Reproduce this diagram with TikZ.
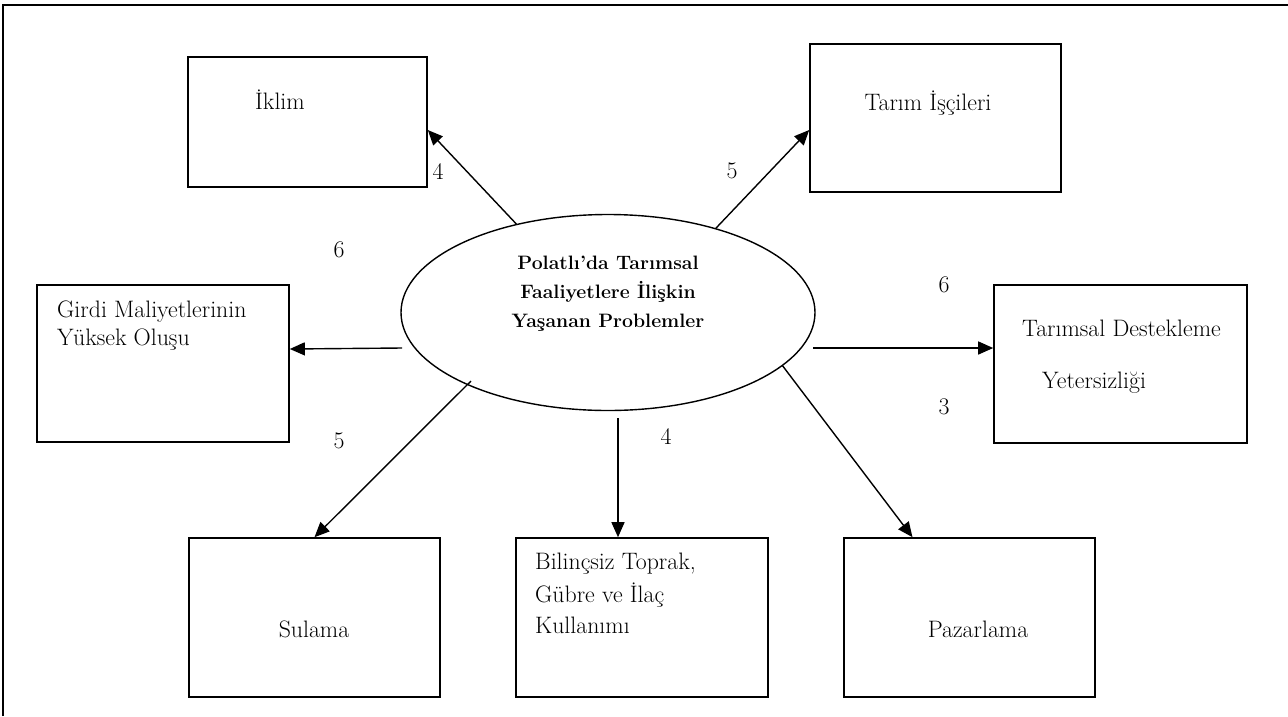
\documentclass[tikz,border=0pt]{standalone}
\usetikzlibrary{arrows.meta,calc,shapes.geometric}
\begin{document}
\begin{tikzpicture}[x=1pt,y=-1pt,
  box/.style={draw,line width=1.6pt,rectangle,inner sep=0pt},
  txt/.style={inner sep=0pt,font=\fontsize{23.8}{30}\selectfont},
  num/.style={inner sep=0pt,font=\fontsize{23.8}{30}\selectfont},
  arr/.style={line width=1.4pt,-{Triangle[length=15pt,width=13pt]}},
  frameline/.style={line width=1.8pt}]
\useasboundingbox (0,0) rectangle (1288,716);
% outer frame (top and left)
\coordinate (fTL) at (3,5);
\coordinate (fTR) at (1288,5);
\coordinate (fBL) at (3,716);
\draw[frameline] (fBL) -- (fTL) -- (fTR);
% boxes
\node[box,minimum width=239pt,minimum height=130pt] (iklim) at (307.5,122) {};
\node[box,minimum width=251pt,minimum height=148pt] (tarim) at (935.5,118) {};
\node[box,minimum width=252pt,minimum height=157pt] (girdi) at (163,363.5) {};
\node[box,minimum width=253pt,minimum height=158pt] (destek) at (1120.5,364) {};
\node[box,minimum width=251pt,minimum height=159pt] (sulama) at (314.5,617.5) {};
\node[box,minimum width=252pt,minimum height=159pt] (bilinc) at (642,617.5) {};
\node[box,minimum width=251pt,minimum height=159pt] (pazar) at (969.5,617.5) {};
% ellipse
\node[draw,ellipse,line width=1.4pt,inner sep=0pt,minimum width=414pt,minimum height=196pt] (ell) at (608,312.5) {};
\node[inner sep=0pt,align=center,font=\fontsize{19.4}{29}\selectfont\bfseries] (title) at (608,294)
  {Polatlı’da Tarımsal\\Faaliyetlere İlişkin\\Yaşanan Problemler};
% texts
\node[txt] (t1) at (280,100) {İklim};
\node[txt] (t2) at (928,103) {Tarım İşçileri};
\node[txt,anchor=west] (t3) at (57,312) {Girdi Maliyetlerinin};
\node[txt,anchor=west] (t4) at (57,340) {Yüksek Oluşu};
\node[txt,anchor=west] (t5) at (1022,328) {Tarımsal Destekleme};
\node[txt,anchor=west] (t6) at (1042,383) {Yetersizliği};
\node[txt] (t7) at (314,629) {Sulama};
\node[txt,anchor=west] (t8) at (535,564) {Bilinçsiz Toprak,};
\node[txt,anchor=west] (t9) at (535,595) {Gübre ve İlaç};
\node[txt,anchor=west] (t10) at (535,625) {Kullanımı};
\node[txt] (t11) at (978,629) {Pazarlama};
% start coordinates
\coordinate (sg) at (402,348);
\coordinate (sd) at (813,348);
\coordinate (ss) at (471,381);
\coordinate (sb) at (618,418);
% arrows
\draw[arr] (ell.136) -- ($(iklim.east)+(0,8)$);
\draw[arr] (ell.38) -- ($(tarim.west)+(0,12)$);
\draw[arr] (sg) -- ($(girdi.east)+(0,-14.5)$);
\draw[arr] (sd) -- ($(destek.west)+(0,-16)$);
\draw[arr] (ss) -- (sulama.north);
\draw[arr] (sb) -- ($(bilinc.north)+(-24,0)$);
\draw[arr] (ell.-17.5) -- ($(pazar.north)+(-57,0)$);
% numbers
\node[num] (n1) at (438,172) {4};
\node[num] (n2) at (732,171) {5};
\node[num] (n3) at (339,250) {6};
\node[num] (n4) at (944,285) {6};
\node[num] (n5) at (944,407) {3};
\node[num] (n6) at (339,441) {5};
\node[num] (n7) at (666,437) {4};
\end{tikzpicture}
\end{document}
